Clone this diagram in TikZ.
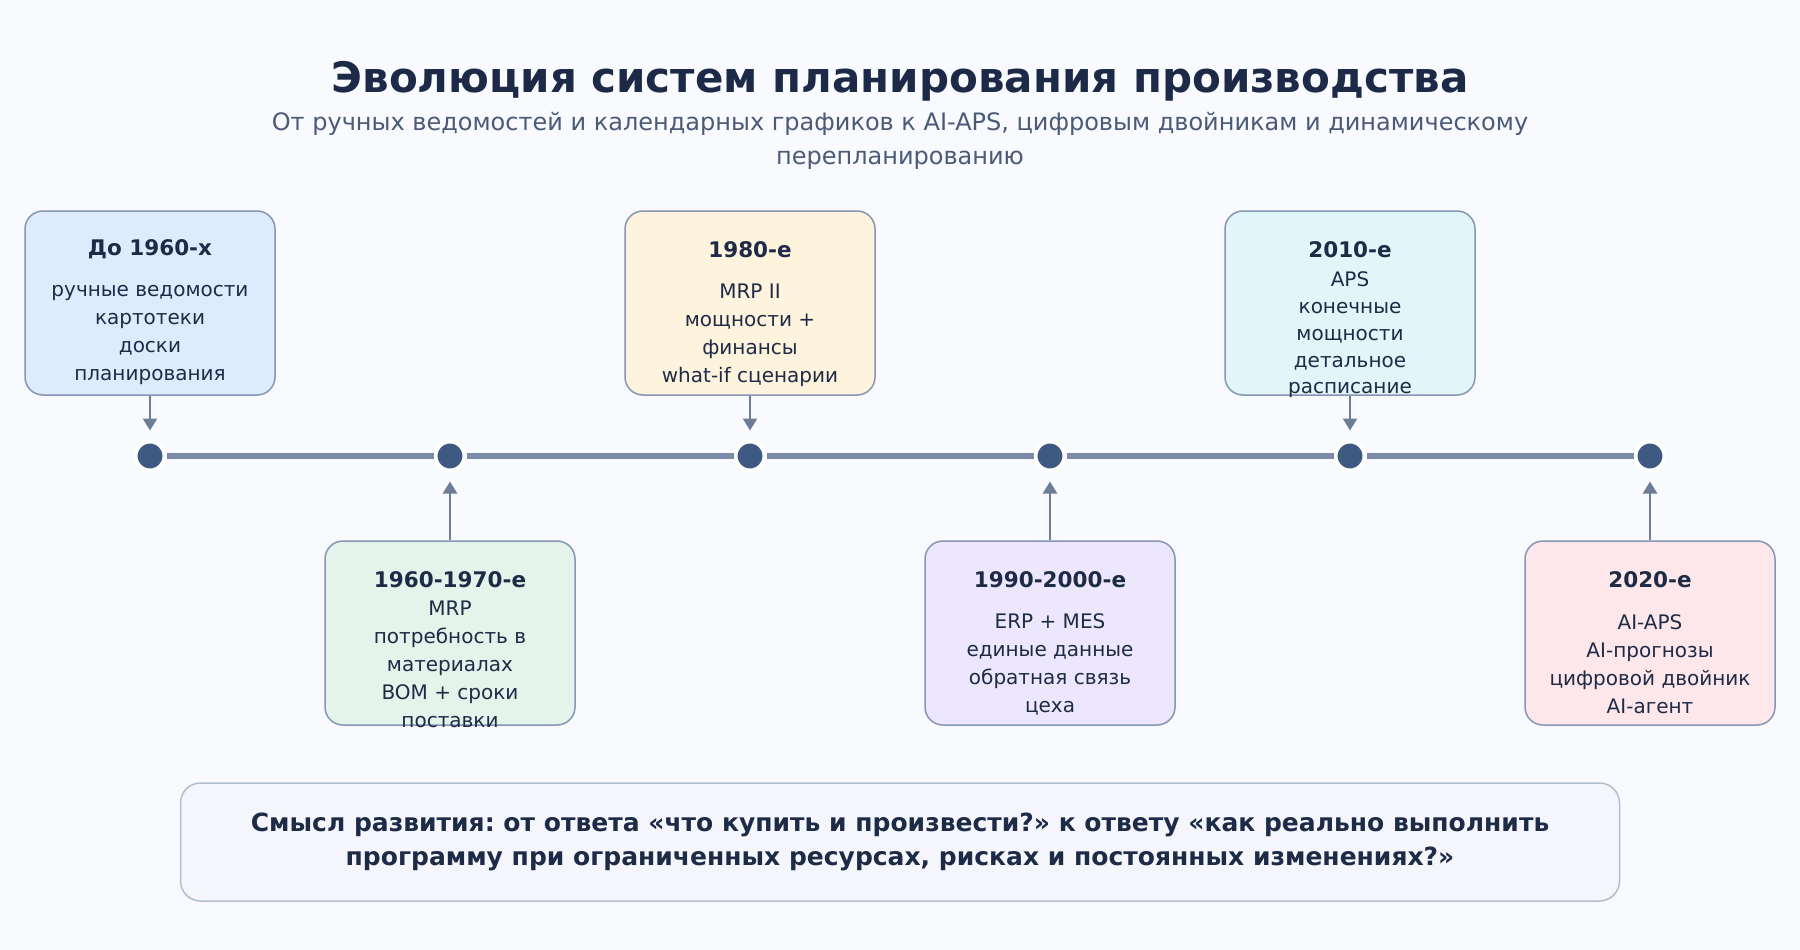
\documentclass[tikz,border=0pt]{standalone}
\usepackage{fontspec}
\setmainfont{DejaVu Sans}
\usetikzlibrary{arrows.meta,positioning}

\definecolor{bgcol}{HTML}{F8FAFE}
\definecolor{titlecol}{HTML}{1C2A48}
\definecolor{subcol}{HTML}{4A5A78}
\definecolor{textcol}{HTML}{1E2B47}
\definecolor{linecol}{HTML}{7B8BA8}
\definecolor{dotcol}{HTML}{3F5A80}
\definecolor{arrcol}{HTML}{6E7D96}
\definecolor{edgecol}{HTML}{8696B4}
\definecolor{sumfill}{HTML}{F4F6FB}
\definecolor{sumedge}{HTML}{B2BDD0}
\definecolor{fillblue}{HTML}{DEEBFD}
\definecolor{fillgreen}{HTML}{E4F4EA}
\definecolor{fillyellow}{HTML}{FEF3DC}
\definecolor{filllilac}{HTML}{EDE7FD}
\definecolor{fillcyan}{HTML}{E1F6F9}
\definecolor{fillpink}{HTML}{FDE7EA}

\tikzset{
  erabox/.style={draw=edgecol, line width=1.5pt, rounded corners=18pt,
    minimum width=250pt, minimum height=184pt, inner sep=0pt},
  eratitle/.style={font=\bfseries\fontsize{21.5}{25}\selectfont, text=textcol},
  erabody/.style={font=\fontsize{20}{28}\selectfont, text=textcol, align=center},
  milestone/.style={circle, fill=dotcol, draw=white, line width=4pt,
    minimum size=29pt, inner sep=0pt},
  pointer/.style={arrcol, line width=2.5pt, -{Triangle[width=14pt,length=12pt]},
    shorten >=9pt},
}

\begin{document}
\frenchspacing
\begin{tikzpicture}[x=1pt, y=-1pt, >=stealth]
    % ==================== NỀN ====================
    \fill[bgcol] (0,0) rectangle (1800,950);
    \useasboundingbox (0,0) rectangle (1800,950);

    % Tiêu đề
    \node[font=\bfseries\fontsize{42}{46}\selectfont, text=titlecol] (title) at (900,81)
        {Эволюция систем планирования производства};
    \node[font=\fontsize{24}{34.5}\selectfont, text=subcol, align=center] (subtitle) at (900,141)
        {От ручных ведомостей и календарных графиков к AI-APS, цифровым двойникам и динамическому\\перепланированию};

    % ==================== TRỤC THỜI GIAN ====================
    \foreach \i/\x in {1/150,2/450,3/750,4/1050,5/1350,6/1650}
        \node[milestone] (m\i) at (\x,456) {};
    \foreach \i/\j in {1/2,2/3,3/4,4/5,5/6}
        \draw[linecol, line width=6pt] (m\i) -- (m\j);

    % ==================== CÁC Ô PHÍA TRÊN ====================
    \node[erabox, fill=fillblue] (b1) at (150,303) {};
    \node[eratitle] (t1) at ([yshift=-39pt]b1.north) {До 1960-х};
    \node[erabody] (d1) at ([yshift=-32pt]b1.center) {ручные ведомости\\картотеки\\доски\\планирования};
    \draw[pointer] (b1) -- (m1);

    \node[erabox, fill=fillyellow] (b3) at (750,303) {};
    \node[eratitle] (t3) at ([yshift=-39pt]b3.north) {1980-е};
    \node[erabody] (d3) at ([yshift=-32pt]b3.center) {MRP II\\мощности +\\финансы\\what-if сценарии};
    \draw[pointer] (b3) -- (m3);

    \node[erabox, fill=fillcyan] (b5) at (1350,303) {};
    \node[eratitle] (t5) at ([yshift=-39pt]b5.north) {2010-е};
    \node[erabody, font=\fontsize{20}{26.7}\selectfont] (d5) at ([yshift=-32pt]b5.center)
        {APS\\конечные\\мощности\\детальное\\расписание};
    \draw[pointer] (b5) -- (m5);

    % ==================== CÁC Ô PHÍA DƯỚI ====================
    \node[erabox, fill=fillgreen] (b2) at (450,633) {};
    \node[eratitle] (t2) at ([yshift=-39pt]b2.north) {1960-1970-е};
    \node[erabody] (d2) at ([yshift=-31pt]b2.center) {MRP\\потребность в\\материалах\\BOM + сроки\\поставки};
    \draw[pointer] (b2) -- (m2);

    \node[erabox, fill=filllilac] (b4) at (1050,633) {};
    \node[eratitle] (t4) at ([yshift=-39pt]b4.north) {1990-2000-е};
    \node[erabody] (d4) at ([yshift=-31pt]b4.center) {ERP + MES\\единые данные\\обратная связь\\цеха};
    \draw[pointer] (b4) -- (m4);

    \node[erabox, fill=fillpink] (b6) at (1650,633) {};
    \node[eratitle] (t6) at ([yshift=-39pt]b6.north) {2020-е};
    \node[erabody] (d6) at ([yshift=-31pt]b6.center) {AI-APS\\AI-прогнозы\\цифровой двойник\\AI-агент};
    \draw[pointer] (b6) -- (m6);

    % ==================== KẾT LUẬN ====================
    \node[draw=sumedge, fill=sumfill, line width=1.5pt, rounded corners=20pt,
          minimum width=1439pt, minimum height=118pt, align=center, text=textcol,
          font=\bfseries\fontsize{25}{34.5}\selectfont] (sense) at (900,842)
        {Смысл развития: от ответа «что купить и произвести?» к ответу «как реально выполнить\\программу при ограниченных ресурсах, рисках и постоянных изменениях?»};
\end{tikzpicture}
\end{document}
